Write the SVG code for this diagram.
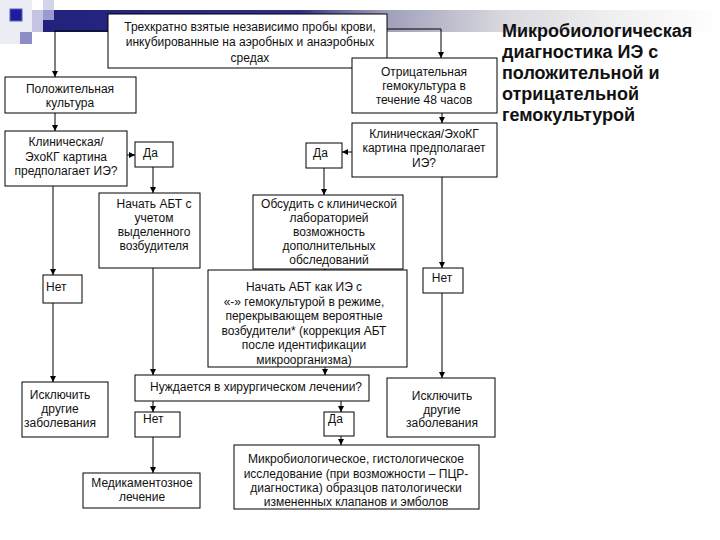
<svg xmlns="http://www.w3.org/2000/svg" width="720" height="540" viewBox="0 0 720 540">
<style>
.box{fill:#fff;stroke:#000;stroke-width:1}
.t{font-family:"Liberation Sans",Arial,sans-serif;font-size:12px;fill:#111;text-anchor:middle}
.s{text-anchor:start}
.ttl{font-family:"Liberation Sans",Arial,sans-serif;font-size:18px;font-weight:bold;fill:#111}
.c{fill:none;stroke:#000;stroke-width:1;marker-end:url(#ah)}
</style>
<defs>
<marker id="ah" markerUnits="userSpaceOnUse" markerWidth="7" markerHeight="7" refX="6" refY="3" orient="auto">
<path d="M0,0 L6,3 L0,6 z" fill="#000"/>
</marker>
<linearGradient id="band" x1="43" y1="0" x2="720" y2="0" gradientUnits="userSpaceOnUse">
<stop offset="0" stop-color="#22227c"/>
<stop offset="0.38" stop-color="#2e2e88"/>
<stop offset="0.44" stop-color="#6a6a9c"/>
<stop offset="0.51" stop-color="#a0a0bc"/>
<stop offset="0.68" stop-color="#d8d8de"/>
<stop offset="0.83" stop-color="#eeeeef"/>
<stop offset="1" stop-color="#ffffff"/>
</linearGradient>
</defs>
<rect width="720" height="540" fill="#fff"/>
<g id="decor">
<rect x="0" y="0" width="32" height="44" fill="#ececf5"/>
<rect x="43" y="0" width="11" height="10" fill="#d4d4ea"/>
<rect x="43" y="10" width="677" height="22" fill="url(#band)"/>
<rect x="32" y="10" width="11" height="22" fill="#c4c4e2"/>
<rect x="43" y="10" width="11" height="10" fill="#9a9ad0"/>
<rect x="20" y="32" width="12" height="12" fill="#8c8cc6"/>
<rect x="10" y="9" width="12" height="12" fill="#1c1c9e" stroke="#6060b8" stroke-width="1"/>
</g>
<g id="connectors">
<polyline class="c" points="108,31 55,31 55,77"/>
<polyline class="c" points="387,29 441,29 441,58"/>
<line class="c" x1="442" y1="113" x2="442" y2="123"/>
<line class="c" x1="55" y1="113" x2="55" y2="131"/>
<line class="c" x1="127" y1="155" x2="135" y2="155"/>
<line class="c" x1="153" y1="167" x2="153" y2="193"/>
<line class="c" x1="352" y1="152" x2="342" y2="152"/>
<line class="c" x1="324" y1="168" x2="324" y2="195"/>
<line class="c" x1="442" y1="177" x2="442" y2="268"/>
<line class="c" x1="442" y1="293" x2="442" y2="378"/>
<line class="c" x1="325" y1="266" x2="325" y2="271"/>
<line class="c" x1="53" y1="186" x2="53" y2="275"/>
<line class="c" x1="53" y1="303" x2="53" y2="382"/>
<line class="c" x1="153" y1="268" x2="153" y2="375"/>
<line class="c" x1="325" y1="367" x2="325" y2="375"/>
<line class="c" x1="153" y1="401" x2="153" y2="412"/>
<line class="c" x1="341" y1="401" x2="341" y2="412"/>
<line class="c" x1="153" y1="437" x2="153" y2="473"/>
<line class="c" x1="341" y1="436" x2="341" y2="445"/>
</g>
<g id="n_top">
<rect class="box" x="108" y="14" width="279" height="54"/>
<text class="t" x="250" y="31">Трехкратно взятые независимо пробы крови,</text>
<text class="t" x="250" y="46">инкубированные на аэробных и анаэробных</text>
<text class="t" x="250" y="62">средах</text>
</g>
<g id="n_pos">
<rect class="box" x="5" y="77" width="131" height="36"/>
<text class="t" x="70" y="93">Положительная</text>
<text class="t" x="70" y="107">культура</text>
</g>
<g id="n_neg">
<rect class="box" x="352" y="58" width="145" height="55"/>
<text class="t" x="424" y="76">Отрицательная</text>
<text class="t" x="424" y="90">гемокультура в</text>
<text class="t" x="424" y="104">течение 48 часов</text>
</g>
<g id="n_clin_l">
<rect class="box" x="5" y="131" width="122" height="55"/>
<text class="t" x="66" y="146">Клиническая/</text>
<text class="t" x="66" y="161">ЭхоКГ картина</text>
<text class="t" x="66" y="175">предполагает ИЭ?</text>
</g>
<g id="n_yes_l">
<rect class="box" x="135" y="142" width="38" height="25"/>
<text class="t s" x="143" y="157">Да</text>
</g>
<g id="n_clin_r">
<rect class="box" x="352" y="123" width="145" height="54"/>
<text class="t" x="424" y="138">Клиническая/ЭхоКГ</text>
<text class="t" x="424" y="152">картина предполагает</text>
<text class="t" x="424" y="167">ИЭ?</text>
</g>
<g id="n_yes_r">
<rect class="box" x="306" y="143" width="36" height="25"/>
<text class="t s" x="313" y="157">Да</text>
</g>
<g id="n_abt1">
<rect class="box" x="99" y="193" width="101" height="75"/>
<text class="t" x="154" y="208">Начать АБТ с</text>
<text class="t" x="154" y="222">учетом</text>
<text class="t" x="154" y="236">выделенного</text>
<text class="t" x="154" y="250">возбудителя</text>
</g>
<g id="n_discuss">
<rect class="box" x="253" y="195" width="150" height="74"/>
<text class="t" x="329" y="208">Обсудить с клинической</text>
<text class="t" x="329" y="222">лабораторией</text>
<text class="t" x="329" y="236">возможность</text>
<text class="t" x="329" y="250">дополнительных</text>
<text class="t" x="329" y="264">обследований</text>
</g>
<g id="n_abt2">
<rect class="box" x="208" y="270" width="199" height="97"/>
<text class="t" x="304" y="291">Начать АБТ как ИЭ с</text>
<text class="t" x="304" y="305.5">«-» гемокультурой в режиме,</text>
<text class="t" x="304" y="320">перекрывающем вероятные</text>
<text class="t" x="304" y="334.5">возбудители* (коррекция АБТ</text>
<text class="t" x="304" y="349">после идентификации</text>
<text class="t" x="304" y="363.5">микроорганизма)</text>
</g>
<g id="n_no_l">
<rect class="box" x="43" y="275" width="39" height="28"/>
<text class="t s" x="46" y="291">Нет</text>
</g>
<g id="n_no_r">
<rect class="box" x="423" y="268" width="40" height="25"/>
<text class="t" x="442" y="282">Нет</text>
</g>
<g id="n_excl_l">
<rect class="box" x="22" y="382" width="86" height="55"/>
<text class="t" x="60" y="399">Исключить</text>
<text class="t" x="60" y="413">другие</text>
<text class="t" x="60" y="427">заболевания</text>
</g>
<g id="n_excl_r">
<rect class="box" x="387" y="378" width="108" height="59"/>
<text class="t" x="442" y="400">Исключить</text>
<text class="t" x="442" y="413.5">другие</text>
<text class="t" x="442" y="427">заболевания</text>
</g>
<g id="n_surg">
<rect class="box" x="135" y="375" width="234" height="26"/>
<text class="t" x="256" y="391">Нуждается в хирургическом лечении?</text>
</g>
<g id="n_no_b">
<rect class="box" x="135" y="412" width="45" height="25"/>
<text class="t s" x="143" y="423">Нет</text>
</g>
<g id="n_yes_b">
<rect class="box" x="324" y="412" width="30" height="24"/>
<text class="t s" x="328" y="423">Да</text>
</g>
<g id="n_med">
<rect class="box" x="83" y="473" width="117" height="35"/>
<text class="t" x="142" y="487">Медикаментозное</text>
<text class="t" x="142" y="501">лечение</text>
</g>
<g id="n_micro">
<rect class="box" x="234" y="445" width="245" height="64"/>
<text class="t" x="356" y="463">Микробиологическое, гистологическое</text>
<text class="t" x="356" y="477.5">исследование (при возможности – ПЦР-</text>
<text class="t" x="356" y="492">диагностика) образцов патологически</text>
<text class="t" x="356" y="506">измененных клапанов и эмболов</text>
</g>
<g id="title">
<text class="ttl" x="502" y="37">Микробиологическая</text>
<text class="ttl" x="502" y="58">диагностика ИЭ с</text>
<text class="ttl" x="502" y="79">положительной и</text>
<text class="ttl" x="502" y="100">отрицательной</text>
<text class="ttl" x="502" y="121">гемокультурой</text>
</g>
</svg>
